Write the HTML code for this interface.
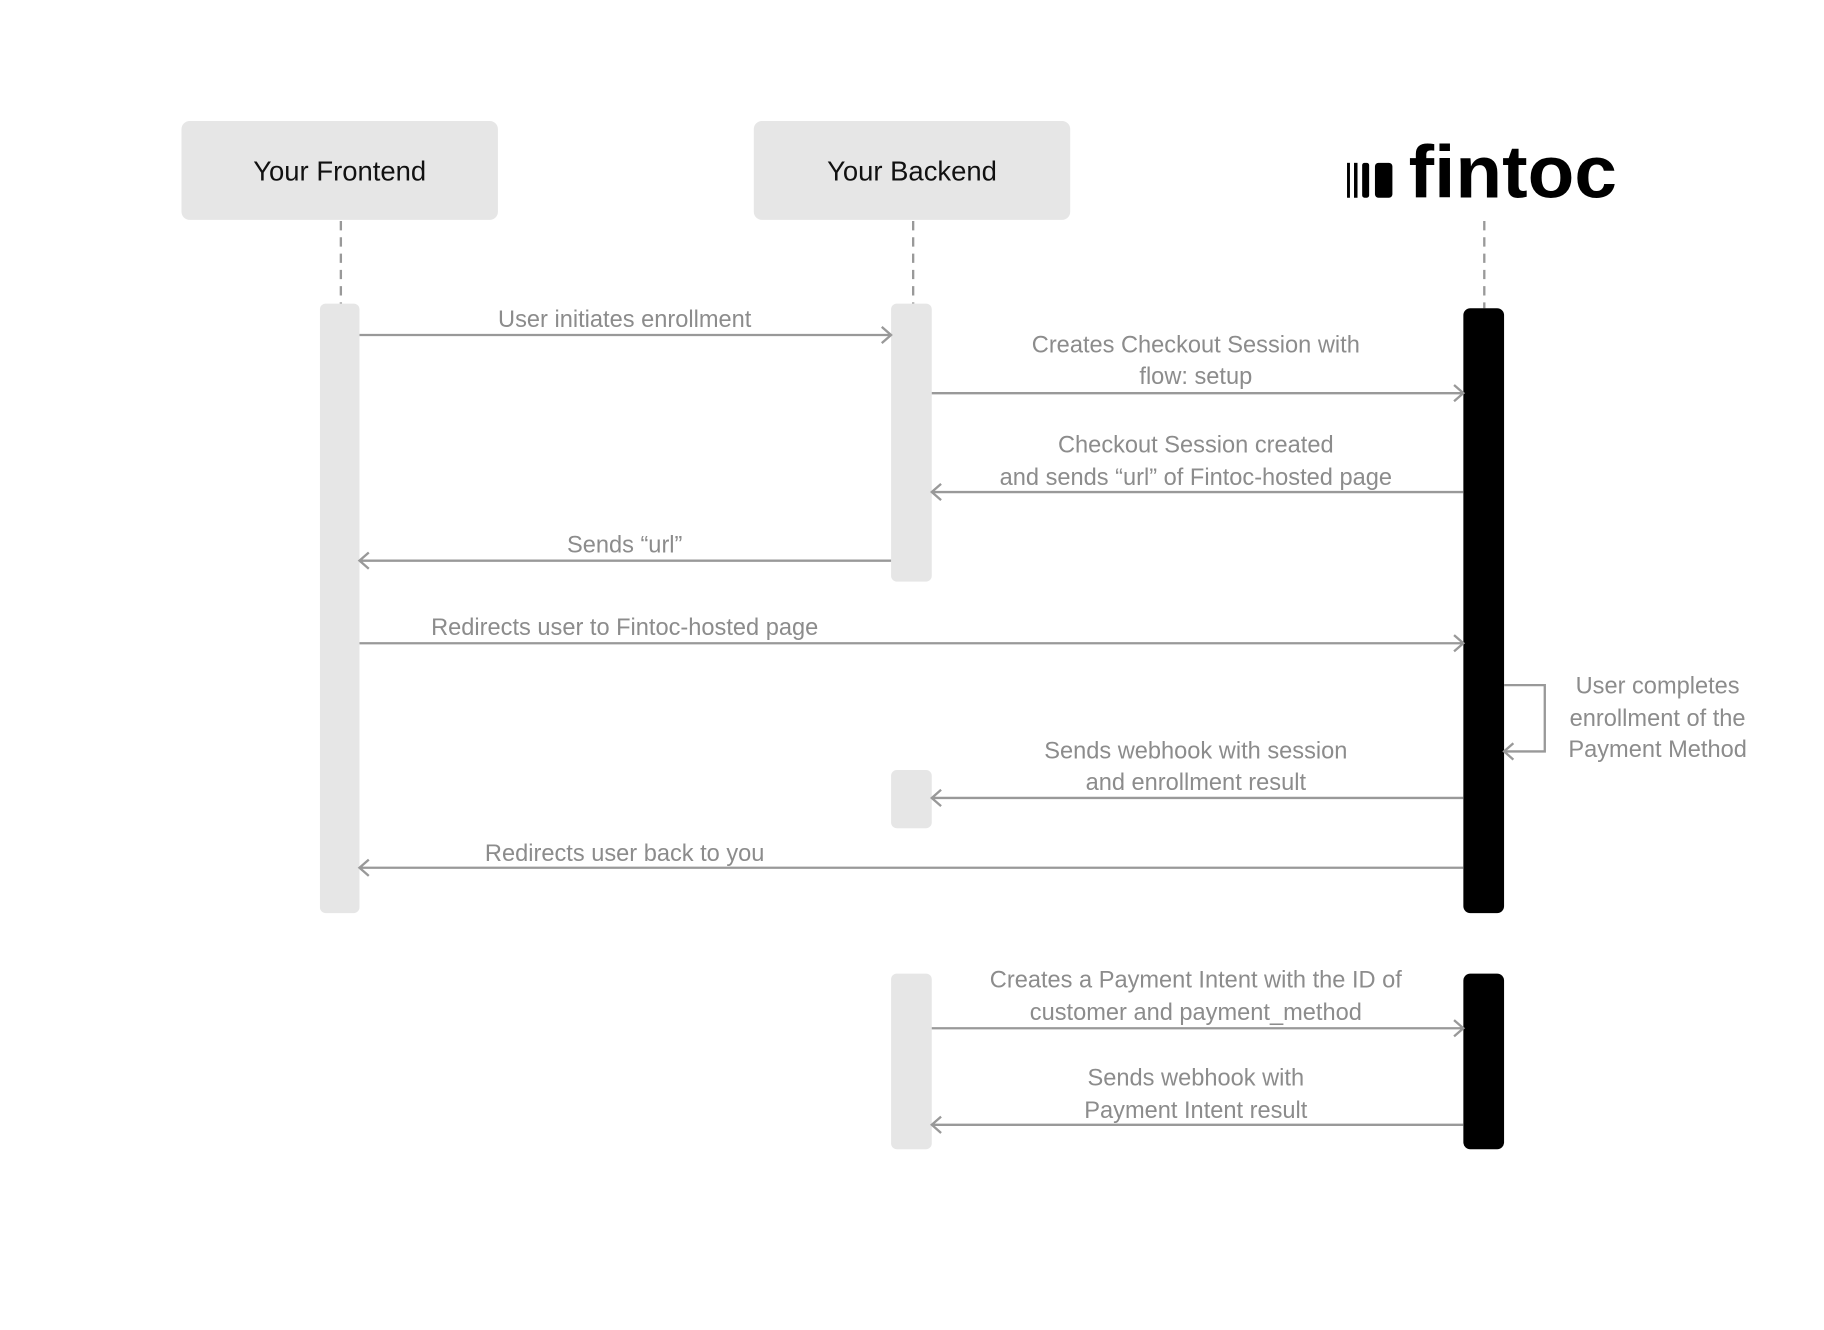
<!DOCTYPE html>
<html><head><meta charset="utf-8"><style>
html,body{margin:0;padding:0;background:#fff;}
svg{display:block;}
text{font-family:"Liberation Sans",sans-serif;}
.l{fill:#8c8c8c;font-size:20.3px;text-anchor:middle;}
.h{fill:#111;font-size:23.6px;text-anchor:middle;}
.a{stroke:#999;stroke-width:2;fill:none;}
.d{stroke:#999;stroke-width:2;stroke-dasharray:8,6;fill:none;}
</style></head><body>
<svg width="1824" height="1330" viewBox="0 0 1568 1143.4" xmlns="http://www.w3.org/2000/svg">
<rect width="1568" height="1143.4" fill="#fff"/>
<rect x="156" y="104" width="272" height="85" rx="7" fill="#e6e6e6"/>
<text class="h" x="292" y="155">Your Frontend</text>
<rect x="648" y="104" width="272" height="85" rx="7" fill="#e6e6e6"/>
<text class="h" x="784" y="155">Your Backend</text>
<rect x="1158" y="140" width="2.5" height="30" fill="#000"/>
<rect x="1164" y="140" width="3" height="30" fill="#000"/>
<rect x="1171" y="140" width="6" height="30" rx="2" fill="#000"/>
<rect x="1182" y="140" width="15" height="30" rx="3" fill="#000"/>
<text x="1211" y="170" font-size="64" font-weight="bold" fill="#000" textLength="179" lengthAdjust="spacingAndGlyphs">fintoc</text>
<line class="d" x1="293" y1="190" x2="293" y2="261"/>
<line class="d" x1="785" y1="190" x2="785" y2="261"/>
<line class="d" x1="1276" y1="190" x2="1276" y2="265"/>
<rect x="275" y="261" width="34" height="524" rx="5" fill="#e6e6e6"/>
<rect x="766" y="261" width="35" height="239" rx="5" fill="#e6e6e6"/>
<rect x="1258" y="265" width="35" height="520" rx="6" fill="#000"/>
<rect x="766" y="662" width="35" height="50" rx="5" fill="#e6e6e6"/>
<rect x="766" y="837" width="35" height="151" rx="5" fill="#e6e6e6"/>
<rect x="1258" y="837" width="35" height="151" rx="6" fill="#000"/>
<g class="a">
<path d="M309 288H766M758 281L766 288L758 295"/>
<path d="M801 338H1258M1250 331L1258 338L1250 345"/>
<path d="M1258 423H801M809 416L801 423L809 430"/>
<path d="M766 482H309M317 475L309 482L317 489"/>
<path d="M309 553H1258M1250 546L1258 553L1250 560"/>
<path d="M1293 589H1328V646H1293M1301 639L1293 646L1301 653"/>
<path d="M1258 686H801M809 679L801 686L809 693"/>
<path d="M1258 746H309M317 739L309 746L317 753"/>
<path d="M801 884H1258M1250 877L1258 884L1250 891"/>
<path d="M1258 967H801M809 960L801 967L809 974"/>
</g>
<text class="l" x="537" y="281">User initiates enrollment</text>
<text class="l" x="1028" y="303">Creates Checkout Session with</text>
<text class="l" x="1028" y="330">flow: setup</text>
<text class="l" x="1028" y="389">Checkout Session created</text>
<text class="l" x="1028" y="417">and sends “url” of Fintoc-hosted page</text>
<text class="l" x="537" y="475">Sends “url”</text>
<text class="l" x="537" y="546">Redirects user to Fintoc-hosted page</text>
<text class="l" x="1425" y="596">User completes</text>
<text class="l" x="1425" y="624">enrollment of the</text>
<text class="l" x="1425" y="651">Payment Method</text>
<text class="l" x="1028" y="652">Sends webhook with session</text>
<text class="l" x="1028" y="679">and enrollment result</text>
<text class="l" x="537" y="740">Redirects user back to you</text>
<text class="l" x="1028" y="849">Creates a Payment Intent with the ID of</text>
<text class="l" x="1028" y="877">customer and payment_method</text>
<text class="l" x="1028" y="933">Sends webhook with</text>
<text class="l" x="1028" y="961">Payment Intent result</text>
</svg>
</body></html>
